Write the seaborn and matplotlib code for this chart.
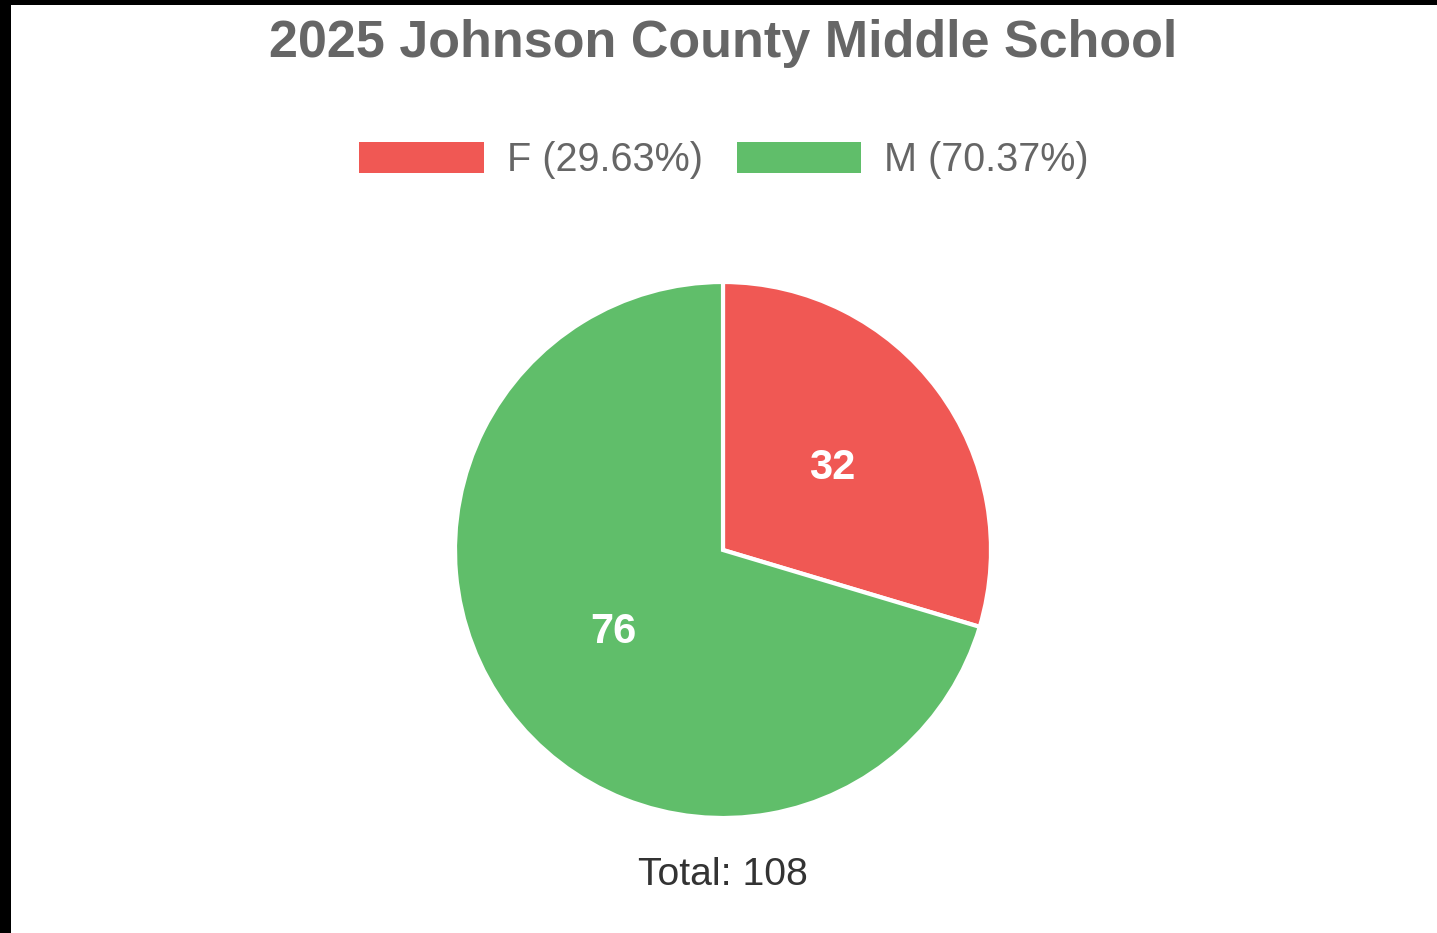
import matplotlib.pyplot as plt
import seaborn as sns
from matplotlib.patches import Patch, Rectangle

# Data
labels = ['F', 'M']
counts = [32, 76]
colors = ['#F05854', '#60BE6A']
title = '2025 Johnson County Middle School'

sns.set_theme(style='white')
plt.rcParams['font.family'] = ['Liberation Sans', 'DejaVu Sans']

W, H = 1437, 933
fig = plt.figure(figsize=(W / 100, H / 100), dpi=100)
fig.patch.set_facecolor('white')

# pie axes: centre (723, 550), radius 268 px
cx, cy, r = 723, 550, 268
ax = fig.add_axes([(cx - r) / W, (H - cy - r) / H, 2 * r / W, 2 * r / H])

total = sum(counts)
wedges, texts, autotexts = ax.pie(
    counts, colors=colors, startangle=90, counterclock=False,
    autopct=lambda p: f'{round(p * total / 100):d}', pctdistance=0.51,
    wedgeprops=dict(edgecolor='white', linewidth=3),
    textprops=dict(color='white', fontsize=30, fontweight='bold'))
ax.set_xlim(-1, 1)
ax.set_ylim(-1, 1)
ax.set_aspect('equal')
ax.axis('off')

fig.text(cx / W, 1 - 44 / H, title, ha='center', va='center',
         fontsize=37.5, fontweight='bold', color='#666666')

pcts = [c / total * 100 for c in counts]
handles = [Patch(facecolor=c, edgecolor='none') for c in colors]
leg_labels = [f'{l} ({p:.2f}%)' for l, p in zip(labels, pcts)]
fig.legend(handles, leg_labels, loc='center', bbox_to_anchor=(724 / W, 1 - 160 / H),
           ncol=2, frameon=False, fontsize=28.5, labelcolor='#666666',
           handlelength=3.15, handleheight=0.82, handletextpad=0.58,
           columnspacing=0.85)

fig.text(cx / W, 1 - 875 / H, f'Total: {total}', ha='center', va='center',
         fontsize=28.2, color='#333333')

# black frame edges from the screenshot
fig.add_artist(Rectangle((0, 1 - 5 / H), 1, 5 / H, transform=fig.transFigure,
                         facecolor='black', edgecolor='none'))
fig.add_artist(Rectangle((0, 0), 11 / W, 1, transform=fig.transFigure,
                         facecolor='black', edgecolor='none'))

fig.savefig('out.png', dpi=100)
